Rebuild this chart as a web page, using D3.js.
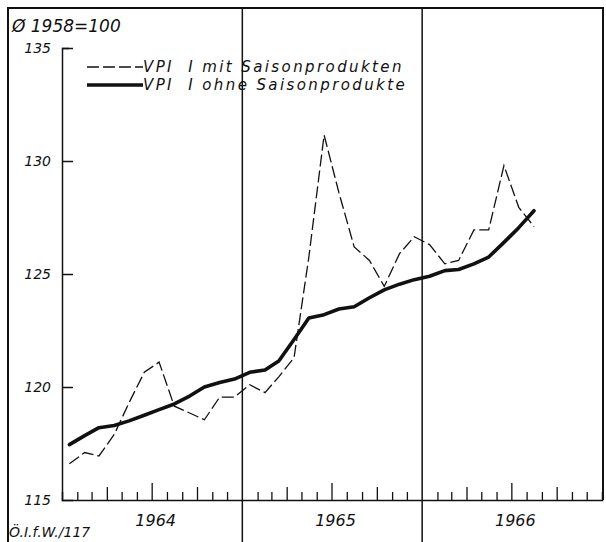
<!DOCTYPE html>
<html>
<head>
<meta charset="utf-8">
<script src="https://cdn.jsdelivr.net/npm/d3@7"></script>
<style>
  html, body { margin: 0; padding: 0; background: #fff; }
  svg { display: block; }
  text { font-family: "DejaVu Sans", sans-serif; font-style: oblique; fill: #111; white-space: pre; }
</style>
</head>
<body>
<svg id="chart" width="606" height="542"></svg>
<script>
// ---- data (monthly, Jan 1964 – Aug 1966) ----
const months = [
  "1964-01","1964-02","1964-03","1964-04","1964-05","1964-06","1964-07","1964-08","1964-09","1964-10","1964-11","1964-12",
  "1965-01","1965-02","1965-03","1965-04","1965-05","1965-06","1965-07","1965-08","1965-09","1965-10","1965-11","1965-12",
  "1966-01","1966-02","1966-03","1966-04","1966-05","1966-06","1966-07","1966-08"
];
const mitSaison = [
  116.6, 117.1, 116.95, 117.9, 119.3, 120.65, 121.1, 119.15, 118.85, 118.55, 119.55, 119.55,
  120.1, 119.75, 120.45, 121.3, 125.75, 131.15, 128.6, 126.2, 125.6, 124.45, 125.9, 126.65,
  126.3, 125.45, 125.6, 126.95, 126.95, 129.8, 127.95, 127.1
];
const ohneSaison = [
  117.45, 117.85, 118.2, 118.3, 118.5, 118.75, 119.0, 119.25, 119.6, 120.0, 120.2, 120.35,
  120.65, 120.75, 121.15, 122.1, 123.05, 123.2, 123.45, 123.55, 123.95, 124.3, 124.55, 124.75,
  124.9, 125.15, 125.2, 125.45, 125.75, 126.4, 127.05, 127.8
];
const yTicks = [115, 120, 125, 130, 135];
const yearLabels = ["1964", "1965", "1966"];
const seriesNames = ["VPI  I mit Saisonprodukten", "VPI  I ohne Saisonprodukte"];
const baseLabel = "Ø 1958=100";
const sourceLabel = "Ö.I.f.W./117";

// ---- scales ----
const parse = d3.timeParse("%Y-%m");
const dates = months.map(m => d3.timeDay.offset(parse(m), 15));
const x = d3.scaleTime()
  .domain([new Date(1964, 0, 1), new Date(1967, 0, 1)])
  .range([62, 602]);
const y = d3.scaleLinear().domain([115, 135]).range([500, 48]);

const svg = d3.select("#chart");
const ink = "#111";

// outer frame
svg.append("path")
  .attr("d", "M8,542 V8 H603 V500")
  .attr("fill", "none").attr("stroke", ink).attr("stroke-width", 2);

// year separator lines
[1965, 1966].forEach(yr => {
  const xx = x(new Date(yr, 0, 1));
  svg.append("line").attr("x1", xx).attr("x2", xx).attr("y1", 8).attr("y2", 542)
    .attr("stroke", ink).attr("stroke-width", 1.5);
});

// y axis
const yAxis = d3.axisLeft(y).tickValues(yTicks).tickSize(-11).tickPadding(11).tickFormat(d3.format("d"));
const gy = svg.append("g").attr("transform", `translate(${x.range()[0]},0)`).call(yAxis);
gy.select(".domain").attr("stroke", ink).attr("stroke-width", 1.5);
gy.selectAll(".tick line").attr("stroke", ink).attr("stroke-width", 1.5)
  .attr("x2", d => d === 135 ? 7 : (d === 115 ? 0 : 11));
gy.selectAll(".tick text").attr("font-size", 14).attr("fill", ink)
  .style("font-family", '"DejaVu Sans", sans-serif').style("font-style", "oblique");

// x axis (monthly ticks pointing up)
const xAxis = d3.axisBottom(x).ticks(d3.timeMonth.every(1)).tickSize(-8).tickFormat("");
const gx = svg.append("g").attr("transform", `translate(0,${y(115)})`).call(xAxis);
gx.select(".domain").attr("stroke", ink).attr("stroke-width", 1.5);
gx.selectAll(".tick line").attr("stroke", ink).attr("stroke-width", 1.3)
  .attr("y2", d => {
    const m = d.getMonth();
    if (m === 0) return 0;
    if (m === 6) return -17;
    if (m === 3 || m === 9) return -13;
    return -8;
  });

// year labels
yearLabels.forEach(lbl => {
  svg.append("text")
    .attr("x", x(new Date(+lbl, 6, 1)) + 4)
    .attr("y", 526)
    .attr("text-anchor", "middle")
    .attr("font-size", 16)
    .text(lbl);
});

// lines
const line = d3.line().x((d, i) => x(dates[i])).y(d => y(d));
svg.append("path").datum(mitSaison)
  .attr("d", line).attr("fill", "none").attr("stroke", ink)
  .attr("stroke-width", 1.3).attr("stroke-dasharray", "12,4");
svg.append("path").datum(ohneSaison)
  .attr("d", line).attr("fill", "none").attr("stroke", ink)
  .attr("stroke-width", 3.6).attr("stroke-linejoin", "round").attr("stroke-linecap", "round");

// legend
svg.append("line").attr("x1", 87).attr("x2", 143).attr("y1", 67).attr("y2", 67)
  .attr("stroke", ink).attr("stroke-width", 1.5).attr("stroke-dasharray", "12,4");
svg.append("line").attr("x1", 87).attr("x2", 143).attr("y1", 85).attr("y2", 85)
  .attr("stroke", ink).attr("stroke-width", 3.4);
svg.append("text").attr("x", 143).attr("y", 72).attr("font-size", 15)
  .attr("letter-spacing", 2.4).text(seriesNames[0]);
svg.append("text").attr("x", 143).attr("y", 90).attr("font-size", 15)
  .attr("letter-spacing", 2.4).text(seriesNames[1]);

// base label and source
svg.append("text").attr("x", 12).attr("y", 32).attr("font-size", 17).text(baseLabel);
svg.append("text").attr("x", 9).attr("y", 537).attr("font-size", 14).text(sourceLabel);
</script>
</body>
</html>
